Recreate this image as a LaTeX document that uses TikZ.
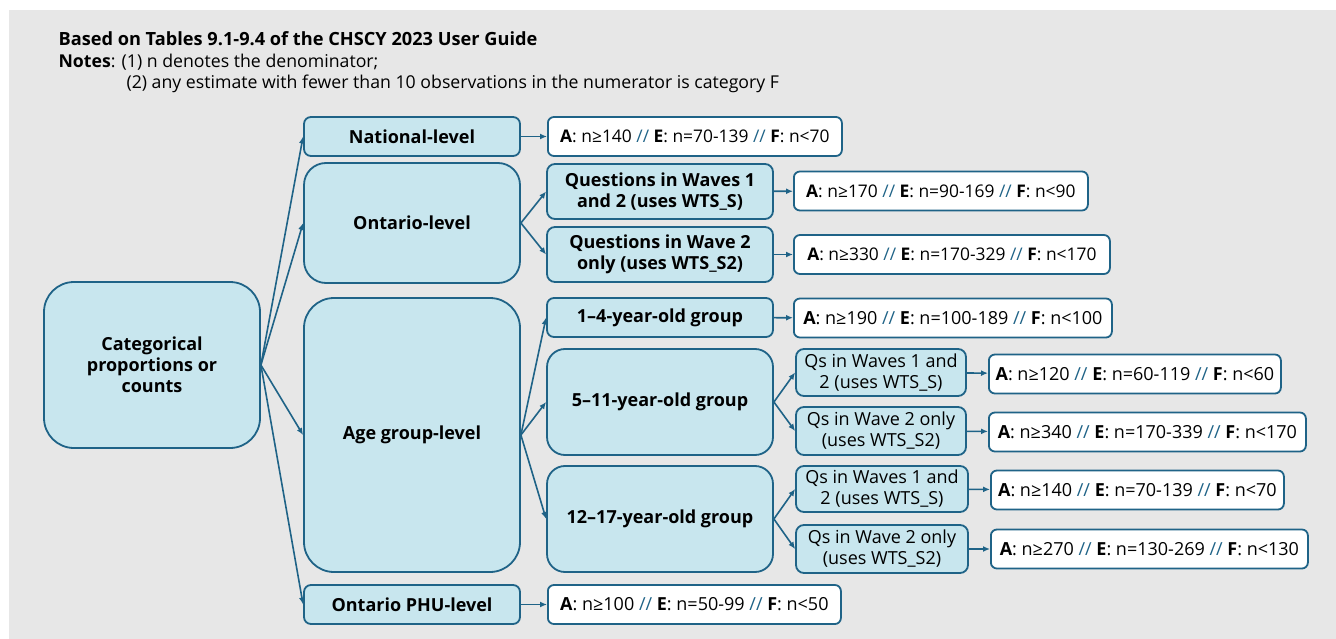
\documentclass[tikz,border=0pt]{standalone}
\usepackage{fontspec}
\setmainfont{Open Sans}
\usetikzlibrary{arrows.meta}
\usepackage{xcolor}
\definecolor{bordc}{RGB}{31,99,135}
\definecolor{fillc}{RGB}{200,230,238}
\definecolor{backc}{RGB}{231,231,231}

\begin{document}
\begin{tikzpicture}[x=1pt,y=-1pt]
\tikzstyle{boite}=[draw=bordc,fill=fillc,line width=1.8pt,align=center,inner sep=0pt,font=\bfseries\fontsize{18}{21}\selectfont]
\tikzstyle{petite}=[font=\fontsize{18}{21}\selectfont]
\tikzstyle{seuil}=[draw=bordc,fill=white,line width=1.8pt,rounded corners=6pt,anchor=west,inner sep=0pt,minimum height=39pt,font=\fontsize{18}{21}\selectfont]
\tikzstyle{estun}=[-{Latex[length=7pt,width=6pt]},line width=1.6pt,draw=bordc]
	\useasboundingbox (0,0) rectangle (1336,639);
	\fill[backc] (9,10) rectangle (1336,639);
\par
	\node[anchor=base west,font=\bfseries\fontsize{18.2}{22}\selectfont] (T) at (55,46) {Based on Tables 9.1-9.4 of the CHSCY 2023 User Guide};
	\node[anchor=base west,font=\fontsize{17.7}{21}\selectfont] (U) at (55,68) {\textbf{Notes}: (1) n denotes the denominator;};
	\node[anchor=base west,font=\fontsize{17.7}{21}\selectfont] (V) at (123,89) {(2) any estimate with fewer than 10 observations in the numerator is category F};
\par
	\node[boite,rounded corners=30pt,minimum width=216pt,minimum height=166pt] (A) at (152,365) {Categorical\\proportions or\\counts};
	\node[boite,rounded corners=7pt,minimum width=216pt,minimum height=39pt] (B) at (412,136.5) {National-level};
	\node[boite,rounded corners=22pt,minimum width=216pt,minimum height=120pt] (C) at (412,223) {Ontario-level};
	\node[boite,rounded corners=30pt,minimum width=216pt,minimum height=274pt] (D) at (412,435) {Age group-level};
	\node[boite,rounded corners=7pt,minimum width=216pt,minimum height=39pt] (E) at (412,604.5) {Ontario PHU-level};
\par
	\node[boite,rounded corners=8pt,minimum width=226pt,minimum height=55pt] (F) at (660,191.5) {Questions in Waves 1\\and 2 (uses WTS\_S)};
	\node[boite,rounded corners=8pt,minimum width=226pt,minimum height=55pt] (G) at (660,254.5) {Questions in Wave 2\\only (uses WTS\_S2)};
	\node[boite,rounded corners=7pt,minimum width=226pt,minimum height=39pt] (H) at (660,317.5) {1–4-year-old group};
	\node[boite,rounded corners=18pt,minimum width=226pt,minimum height=106pt] (I) at (660,402) {5–11-year-old group};
	\node[boite,rounded corners=18pt,minimum width=226pt,minimum height=106pt] (L) at (660,519) {12–17-year-old group};
\par
	\node[boite,petite,rounded corners=8pt,minimum width=170pt,minimum height=47pt] (J) at (881,372.5) {Qs in Waves 1 and\\2 (uses WTS\_S)};
	\node[boite,petite,rounded corners=8pt,minimum width=170pt,minimum height=48pt] (K) at (881,431) {Qs in Wave 2 only\\(uses WTS\_S2)};
	\node[boite,petite,rounded corners=8pt,minimum width=172pt,minimum height=46pt] (M) at (882,489) {Qs in Waves 1 and\\2 (uses WTS\_S)};
	\node[boite,petite,rounded corners=8pt,minimum width=172pt,minimum height=48pt] (N) at (882,549) {Qs in Wave 2 only\\(uses WTS\_S2)};
\par
	\node[seuil,minimum width=294pt,font=\fontsize{17.4}{21}\selectfont] (B1) at (547,136.5) {\textbf{A}: n≥140 {\color{bordc}//} \textbf{E}: n=70-139 {\color{bordc}//} \textbf{F}: n<70};
	\node[seuil,minimum width=294pt,font=\fontsize{17.4}{21}\selectfont] (F1) at (793,191) {\textbf{A}: n≥170 {\color{bordc}//} \textbf{E}: n=90-169 {\color{bordc}//} \textbf{F}: n<90};
	\node[seuil,minimum width=316pt,font=\fontsize{17.4}{21}\selectfont] (G1) at (793,254.5) {\textbf{A}: n≥330 {\color{bordc}//} \textbf{E}: n=170-329 {\color{bordc}//} \textbf{F}: n<170};
	\node[seuil,minimum width=318pt] (H1) at (793,318) {\textbf{A}: n≥190 {\color{bordc}//} \textbf{E}: n=100-189 {\color{bordc}//} \textbf{F}: n<100};
	\node[seuil,minimum width=292pt] (J1) at (988,374) {\textbf{A}: n≥120 {\color{bordc}//} \textbf{E}: n=60-119 {\color{bordc}//} \textbf{F}: n<60};
	\node[seuil,minimum width=317pt] (K1) at (988,432) {\textbf{A}: n≥340 {\color{bordc}//} \textbf{E}: n=170-339 {\color{bordc}//} \textbf{F}: n<170};
	\node[seuil,minimum width=293pt] (M1) at (990,490) {\textbf{A}: n≥140 {\color{bordc}//} \textbf{E}: n=70-139 {\color{bordc}//} \textbf{F}: n<70};
	\node[seuil,minimum width=317pt] (N1) at (990,549) {\textbf{A}: n≥270 {\color{bordc}//} \textbf{E}: n=130-269 {\color{bordc}//} \textbf{F}: n<130};
	\node[seuil,minimum width=293pt] (E1) at (547,604.5) {\textbf{A}: n≥100 {\color{bordc}//} \textbf{E}: n=50-99 {\color{bordc}//} \textbf{F}: n<50};
\par
	\draw[estun] (A.east)--(B.west);
	\draw[estun] (A.east)--(C.west);
	\draw[estun] (A.east)--(D.west);
	\draw[estun] (A.east)--(E.west);
	\draw[estun] (C.east)--(F.west);
	\draw[estun] (C.east)--(G.west);
	\draw[estun] (D.east)--(H.west);
	\draw[estun] (D.east)--(I.west);
	\draw[estun] (D.east)--(L.west);
	\draw[estun] (I.east)--(J.west);
	\draw[estun] (I.east)--(K.west);
	\draw[estun] (L.east)--(M.west);
	\draw[estun] (L.east)--(N.west);
\par
	\draw[estun] (B)--(B1);
	\draw[estun] (F)--(F1);
	\draw[estun] (G)--(G1);
	\draw[estun] (H)--(H1);
	\draw[estun] (J)--(J1);
	\draw[estun] (K)--(K1);
	\draw[estun] (M)--(M1);
	\draw[estun] (N)--(N1);
	\draw[estun] (E)--(E1);
\end{tikzpicture}
\end{document}
